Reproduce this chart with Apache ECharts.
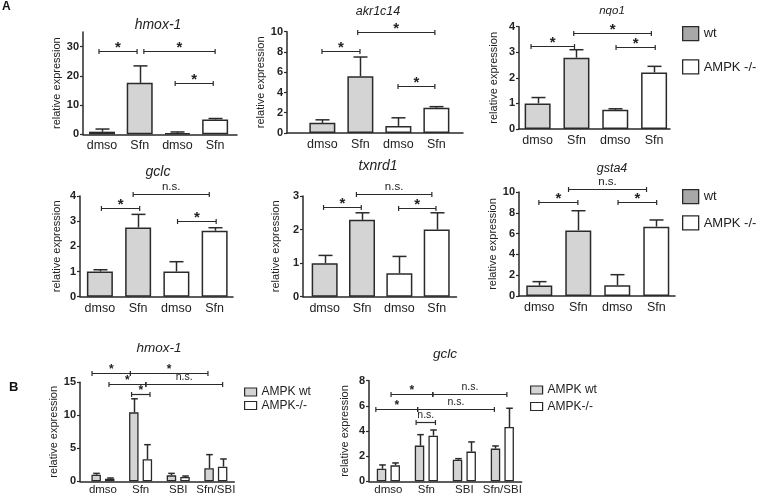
<!DOCTYPE html>
<html><head><meta charset="utf-8">
<script src="https://cdn.jsdelivr.net/npm/echarts@6/dist/echarts.min.js"></script>
<style>html,body{margin:0;padding:0;background:#fff}#c{width:758px;height:496px}</style>
</head><body><div id="c"></div>
<script>
// ---------------- DATA ----------------
const catsA = ['dmso', 'Sfn', 'dmso', 'Sfn'];
const catsB = ['dmso', 'Sfn', 'SBI', 'Sfn/SBI'];
const yAxisName = 'relative expression';

// Panel A genes: bars = [wt dmso, wt Sfn, AMPK-/- dmso, AMPK-/- Sfn]
const hmoxA_mean = [0.9, 17.6, 0.4, 5.1];
const hmoxA_err  = [1.8, 23.4, 0.8, 5.4];
const akr_mean   = [1.0, 5.6, 0.7, 2.5];
const akr_err    = [1.3, 7.5, 1.5, 2.6];
const nqo_mean   = [1.0, 2.79, 0.75, 2.21];
const nqo_err    = [1.23, 3.1, 0.79, 2.45];
const gclcA_mean = [1.0, 2.75, 1.0, 2.62];
const gclcA_err  = [1.07, 3.27, 1.39, 2.74];
const txn_mean   = [1.0, 2.29, 0.7, 2.0];
const txn_err    = [1.23, 2.5, 1.2, 2.5];
const gsta_mean  = [1.0, 6.31, 1.03, 6.67];
const gsta_err   = [1.38, 8.2, 2.05, 7.31];

// Panel B: per treatment, AMPK wt and AMPK-/-
const hmoxB_wt_mean = [1.0, 10.45, 0.9, 1.97];
const hmoxB_wt_err  = [1.2, 12.5, 1.2, 4.04];
const hmoxB_ko_mean = [0.4, 3.33, 0.65, 2.22];
const hmoxB_ko_err  = [0.5, 5.55, 0.8, 3.38];
const gclcB_wt_mean = [1.0, 2.84, 1.72, 2.6];
const gclcB_wt_err  = [1.3, 3.71, 1.8, 2.81];
const gclcB_ko_mean = [1.27, 3.63, 2.36, 4.32];
const gclcB_ko_err  = [1.46, 4.08, 3.13, 5.81];

// significance brackets: [from, to, height] (x in category units), labels
const hmoxA_sig = [[-0.08, 0.93, 28.6], [1.11, 3.0, 28.6], [1.94, 2.95, 17.6]];
const hmoxA_lab = ['*', '*', '*'];
const akr_sig = [[-0.01, 0.99, 8.1], [0.93, 2.96, 10.0], [1.99, 2.96, 4.6]];
const akr_lab = ['*', '*', '*'];
const nqo_sig = [[-0.17, 0.95, 3.26], [0.93, 2.93, 3.76], [2.02, 3.03, 3.2]];
const nqo_lab = ['*', '*', '*'];
const gclcA_sig = [[0.04, 1.04, 3.53], [0.87, 2.86, 4.06], [2.03, 3.04, 3.02]];
const gclcA_lab = ['*', 'n.s.', '*'];
const txn_sig = [[-0.03, 0.98, 2.66], [0.85, 2.87, 3.05], [1.98, 2.98, 2.63]];
const txn_lab = ['*', 'n.s.', '*'];
const gsta_sig = [[-0.01, 0.99, 9.07], [0.75, 2.75, 10.26], [2.02, 3.01, 9.0]];
const gsta_lab = ['*', 'n.s.', '*'];
const hmoxB_sig = [[-0.29, 0.73, 16.4], [0.73, 2.79, 16.4], [0.16, 1.14, 14.7], [1.14, 3.18, 14.7], [0.76, 1.25, 13.3]];
const hmoxB_lab = ['*', '*', '*', 'n.s.', '*'];
const gclcB_sig = [[0.07, 1.17, 6.92], [1.17, 3.12, 6.92], [-0.33, 0.77, 5.73], [0.77, 2.79, 5.73], [0.73, 1.24, 4.72]];
const gclcB_lab = ['*', 'n.s.', '*', 'n.s.', 'n.s.'];

// tick labels
const ticks_hmoxA = [0, 10, 20, 30];
const ticks_akr = [0, 2, 4, 6, 8, 10];
const ticks_nqo = [0, 1, 2, 3, 4];
const ticks_gclcA = [0, 1, 2, 3, 4];
const ticks_txn = [0, 1, 2, 3];
const ticks_gsta = [0, 2, 4, 6, 8, 10];
const ticks_hmoxB = [0, 5, 10, 15];
const ticks_gclcB = [0, 2, 4, 6, 8];

// ---------------- LAYOUT ----------------
const FONT = '"Liberation Sans", Arial, Helvetica, sans-serif';
const INK = '#2a2a2a';
const GRAY = '#d4d4d4';
const PAIR = 0.18;

const panels = [
  {title: 'hmox-1', tx: 158, ty: 25, ts: 14, left: 83, top: 32, width: 154, height: 102.3, xmin: -0.504, xmax: 3.58, ymax: 35, gap: 20, type: 'A', mean: hmoxA_mean, err: hmoxA_err, sig: hmoxA_sig, lab: hmoxA_lab, ticks: ticks_hmoxA},
  {title: 'akr1c14', tx: 378, ty: 12, ts: 12.5, left: 287, top: 31.7, width: 176, height: 101.3, xmin: -0.93, xmax: 3.70, ymax: 10, gap: 8, type: 'A', mean: akr_mean, err: akr_err, sig: akr_sig, lab: akr_lab, ticks: ticks_akr},
  {title: 'nqo1', tx: 612, ty: 11, ts: 11.5, left: 519, top: 26.7, width: 151, height: 102.3, xmin: -0.48, xmax: 3.41, ymax: 4, gap: 19.5, type: 'A', mean: nqo_mean, err: nqo_err, sig: nqo_sig, lab: nqo_lab, ticks: ticks_nqo},
  {title: 'gclc', tx: 158, ty: 172, ts: 14, left: 80, top: 196, width: 153, height: 100.7, xmin: -0.52, xmax: 3.48, ymax: 4, gap: 17.5, type: 'A', mean: gclcA_mean, err: gclcA_err, sig: gclcA_sig, lab: gclcA_lab, ticks: ticks_gclcA},
  {title: 'txnrd1', tx: 378, ty: 166, ts: 14, left: 303, top: 196, width: 153.5, height: 100.7, xmin: -0.58, xmax: 3.53, ymax: 3, gap: 21.5, type: 'A', mean: txn_mean, err: txn_err, sig: txn_sig, lab: txn_lab, ticks: ticks_txn},
  {title: 'gsta4', tx: 612, ty: 169, ts: 12.5, left: 519, top: 192, width: 156, height: 104, xmin: -0.52, xmax: 3.48, ymax: 10, gap: 19.5, type: 'A', mean: gsta_mean, err: gsta_err, sig: gsta_sig, lab: gsta_lab, ticks: ticks_gsta},
  {title: 'hmox-1', tx: 159, ty: 348, ts: 13.5, left: 80, top: 382.3, width: 154.3, height: 99, xmin: -0.61, xmax: 3.49, ymax: 15, gap: 17.5, type: 'B', wtMean: hmoxB_wt_mean, wtErr: hmoxB_wt_err, koMean: hmoxB_ko_mean, koErr: hmoxB_ko_err, sig: hmoxB_sig, lab: hmoxB_lab, ticks: ticks_hmoxB},
  {title: 'gclc', tx: 445, ty: 354, ts: 13.5, left: 369, top: 380.7, width: 152.7, height: 100.6, xmin: -0.51, xmax: 3.51, ymax: 8, gap: 18.5, type: 'B', wtMean: gclcB_wt_mean, wtErr: gclcB_wt_err, koMean: gclcB_ko_mean, koErr: gclcB_ko_err, sig: gclcB_sig, lab: gclcB_lab, ticks: ticks_gclcB}
];

const grids = [], xAxes = [], yAxes = [], series = [], texts = [];

function errSeries(gi, xs, means, errs, cap) {
  return {
    type: 'custom', xAxisIndex: gi, yAxisIndex: gi, z: 5, silent: true,
    data: xs.map((x, i) => [x, means[i], errs[i]]),
    renderItem(params, api) {
      const a = api.coord([api.value(0), api.value(1)]);
      const b = api.coord([api.value(0), api.value(2)]);
      const x = Math.round(a[0]) + 0.5;
      return {type: 'group', children: [
        {type: 'line', shape: {x1: x, y1: a[1], x2: x, y2: b[1]}, style: {stroke: INK, lineWidth: 1.5}},
        {type: 'line', shape: {x1: x - cap, y1: b[1], x2: x + cap, y2: b[1]}, style: {stroke: INK, lineWidth: 1.5}}
      ]};
    }
  };
}

function sigSeries(gi, sig, labels, small) {
  return {
    type: 'custom', xAxisIndex: gi, yAxisIndex: gi, z: 6, silent: true,
    data: sig.map(s => [s[0], s[2], s[1]]),
    renderItem(params, api) {
      const p1 = api.coord([api.value(0), api.value(1)]);
      const p2 = api.coord([api.value(2), api.value(1)]);
      const y = Math.round(p1[1]) + 0.5;
      const lab = labels[params.dataIndex];
      const star = lab === '*';
      const cx = (p1[0] + p2[0]) / 2;
      const fs = star ? (small ? 12 : 15) : (small ? 10.5 : 11.5);
      return {type: 'group', children: [
        {type: 'line', shape: {x1: p1[0], y1: y, x2: p2[0], y2: y}, style: {stroke: INK, lineWidth: 1.2}},
        {type: 'line', shape: {x1: p1[0], y1: y - 2.5, x2: p1[0], y2: y + 2.5}, style: {stroke: INK, lineWidth: 1.2}},
        {type: 'line', shape: {x1: p2[0], y1: y - 2.5, x2: p2[0], y2: y + 2.5}, style: {stroke: INK, lineWidth: 1.2}},
        {type: 'text', x: cx, y: star ? y - 4 : y - 1.5,
          style: {text: lab, fill: '#222', align: 'center', verticalAlign: star ? 'middle' : 'bottom',
            font: (star ? 'bold ' : '') + fs + 'px ' + FONT}}
      ]};
    }
  };
}

panels.forEach((p, gi) => {
  grids.push({left: p.left, top: p.top, width: p.width, height: p.height, containLabel: false, outerBoundsMode: 'none'});
  const cats = p.type === 'A' ? catsA : catsB;
  xAxes.push({
    type: 'value', gridIndex: gi, min: p.xmin, max: p.xmax,
    axisLine: {onZero: false, lineStyle: {color: INK, width: 1.5}},
    axisTick: {show: false}, splitLine: {show: false},
    axisLabel: {customValues: [0, 1, 2, 3], formatter: v => cats[Math.round(v)],
      fontSize: p.type === 'A' ? 12.5 : 11.5, color: '#222', margin: p.type === 'A' ? 5 : 3, fontFamily: FONT}
  });
  yAxes.push({
    type: 'value', gridIndex: gi, min: 0, max: p.ymax,
    name: yAxisName, nameLocation: 'middle', nameGap: p.gap,
    nameTextStyle: {fontSize: 11, color: '#222', fontFamily: FONT},
    axisLine: {show: true, onZero: false, lineStyle: {color: INK, width: 1.5}},
    axisTick: {show: true, length: 3, customValues: p.ticks, lineStyle: {color: INK, width: 1.2}},
    axisLabel: {customValues: p.ticks, fontSize: 11, fontWeight: 'bold', color: '#222', margin: 4, fontFamily: FONT},
    splitLine: {show: false}
  });
  texts.push({type: 'text', x: p.tx, y: p.ty, style: {text: p.title, align: 'center', verticalAlign: 'middle',
    font: 'italic ' + p.ts + 'px ' + FONT, fill: '#222'}});

  if (p.type === 'A') {
    const wtX = [0, 1], koX = [2, 3];
    series.push({type: 'bar', name: 'wt', xAxisIndex: gi, yAxisIndex: gi, barWidth: 26, barGap: '-100%', silent: true,
      data: wtX.map((x, i) => [x, p.mean[i]]),
      itemStyle: {color: GRAY, borderColor: INK, borderWidth: 1.5}});
    series.push({type: 'bar', name: 'AMPK -/-', xAxisIndex: gi, yAxisIndex: gi, barWidth: 26, barGap: '-100%', silent: true,
      data: koX.map((x, i) => [x, p.mean[i + 2]]),
      itemStyle: {color: '#fff', borderColor: INK, borderWidth: 1.5}});
    series.push(errSeries(gi, [0, 1, 2, 3], p.mean, p.err, 7));
    series.push(sigSeries(gi, p.sig, p.lab, false));
  } else {
    const wtX = [0, 1, 2, 3].map(i => i - PAIR), koX = [0, 1, 2, 3].map(i => i + PAIR);
    series.push({type: 'bar', name: 'AMPK wt', xAxisIndex: gi, yAxisIndex: gi, barWidth: 9.5, barGap: '-100%', silent: true,
      data: wtX.map((x, i) => [x, p.wtMean[i]]),
      itemStyle: {color: GRAY, borderColor: INK, borderWidth: 1.3}});
    series.push({type: 'bar', name: 'AMPK-/-', xAxisIndex: gi, yAxisIndex: gi, barWidth: 9.5, barGap: '-100%', silent: true,
      data: koX.map((x, i) => [x, p.koMean[i]]),
      itemStyle: {color: '#fff', borderColor: INK, borderWidth: 1.3}});
    series.push(errSeries(gi, wtX, p.wtMean, p.wtErr, 3.3));
    series.push(errSeries(gi, koX, p.koMean, p.koErr, 3.3));
    series.push(sigSeries(gi, p.sig, p.lab, true));
  }
});

texts.push({type: 'text', x: 2, y: 1, style: {text: 'A', font: 'bold 12px ' + FONT, fill: '#111'}});
texts.push({type: 'text', x: 9, y: 381, style: {text: 'B', font: 'bold 13px ' + FONT, fill: '#111'}});

const legA = (top, gap) => ({
  orient: 'vertical', left: 682, top: top, padding: 0, itemWidth: 16, itemHeight: 14, itemGap: gap, icon: 'rect',
  selectedMode: false, itemStyle: {borderColor: INK, borderWidth: 1.3},
  textStyle: {fontSize: 13, color: '#222', fontFamily: FONT, lineHeight: 14},
  data: [{name: 'wt', itemStyle: {color: '#a8a8a8'}}, 'AMPK -/-']
});
const legB = (left, top, gap) => ({
  orient: 'vertical', left: left, top: top, padding: 0, itemWidth: 12, itemHeight: 8, itemGap: gap, icon: 'rect',
  selectedMode: false, itemStyle: {borderColor: INK, borderWidth: 1.2},
  textStyle: {fontSize: 12, color: '#222', fontFamily: FONT, lineHeight: 10},
  data: ['AMPK wt', 'AMPK-/-']
});

const chart = echarts.init(document.getElementById('c'), null, {renderer: 'canvas'});
chart.setOption({
  animation: false,
  backgroundColor: '#fff',
  textStyle: {fontFamily: FONT},
  grid: grids, xAxis: xAxes, yAxis: yAxes, series: series,
  legend: [legA(26, 18), legA(189, 11), legB(244, 386, 1.5), legB(530, 384, 4.5)],
  graphic: {elements: texts}
});
</script></body></html>
